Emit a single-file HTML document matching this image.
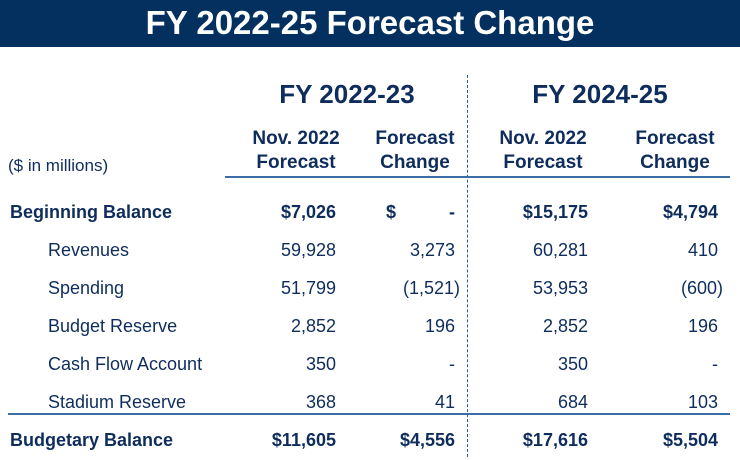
<!DOCTYPE html>
<html><head><meta charset="utf-8"><style>
body{margin:0;width:740px;height:460px;background:#fff;position:relative;overflow:hidden;font-family:"Liberation Sans",sans-serif;color:#0f2d5c}
.bar{position:absolute;left:0;top:0;width:740px;height:47px;background:#03305f}
.title{position:absolute;left:0;width:740px;top:3px;text-align:center;color:#fff;font-weight:bold;font-size:33px;line-height:40px}
.t{position:absolute;font-size:18px;line-height:22px;white-space:nowrap}
.b{font-weight:bold}
.r{text-align:right;width:120px}
.c{text-align:center;width:140px}
.h{font-size:19px;line-height:24px}
.hl{position:absolute;height:2px;background:#3b6ea5}
.vd{position:absolute;left:467px;top:75px;height:382px;border-left:1.5px dashed #2a5a8f}
</style></head><body>
<div class="bar"></div><div class="title">FY 2022-25 Forecast Change</div>
<div class="vd"></div>
<div class="t b c" style="left:277px;top:79px;font-size:26px;line-height:30px;width:140px">FY 2022-23</div>
<div class="t b c" style="left:530px;top:79px;font-size:26px;line-height:30px;width:140px">FY 2024-25</div>
<div class="t b c h" style="left:226px;top:127px">Nov. 2022<br>Forecast</div>
<div class="t b c h" style="left:345px;top:127px">Forecast<br>Change</div>
<div class="t b c h" style="left:473px;top:127px">Nov. 2022<br>Forecast</div>
<div class="t b c h" style="left:605px;top:127px">Forecast<br>Change</div>
<div class="t" style="left:8px;top:155px;font-size:17px">($ in millions)</div>
<div class="hl" style="left:225px;top:176px;width:505px"></div>
<div class="hl" style="left:8px;top:413px;width:722px"></div>

<div class="t b" style="left:10px;top:201px">Beginning Balance</div>
<div class="t b r" style="left:216px;top:201px">$7,026</div>
<div class="t b" style="left:386px;top:201px">$</div>
<div class="t b r" style="left:335px;top:201px">-</div>
<div class="t b r" style="left:468px;top:201px">$15,175</div>
<div class="t b r" style="left:598px;top:201px">$4,794</div>

<div class="t" style="left:48px;top:239px">Revenues</div>
<div class="t r" style="left:216px;top:239px">59,928</div>
<div class="t r" style="left:335px;top:239px">3,273</div>
<div class="t r" style="left:468px;top:239px">60,281</div>
<div class="t r" style="left:598px;top:239px">410</div>

<div class="t" style="left:48px;top:277px">Spending</div>
<div class="t r" style="left:216px;top:277px">51,799</div>
<div class="t r" style="left:340px;top:277px">(1,521)</div>
<div class="t r" style="left:468px;top:277px">53,953</div>
<div class="t r" style="left:603px;top:277px">(600)</div>

<div class="t" style="left:48px;top:315px">Budget Reserve</div>
<div class="t r" style="left:216px;top:315px">2,852</div>
<div class="t r" style="left:335px;top:315px">196</div>
<div class="t r" style="left:468px;top:315px">2,852</div>
<div class="t r" style="left:598px;top:315px">196</div>

<div class="t" style="left:48px;top:353px">Cash Flow Account</div>
<div class="t r" style="left:216px;top:353px">350</div>
<div class="t r" style="left:335px;top:353px">-</div>
<div class="t r" style="left:468px;top:353px">350</div>
<div class="t r" style="left:598px;top:353px">-</div>

<div class="t" style="left:48px;top:391px">Stadium Reserve</div>
<div class="t r" style="left:216px;top:391px">368</div>
<div class="t r" style="left:335px;top:391px">41</div>
<div class="t r" style="left:468px;top:391px">684</div>
<div class="t r" style="left:598px;top:391px">103</div>

<div class="t b" style="left:10px;top:429px">Budgetary Balance</div>
<div class="t b r" style="left:216px;top:429px">$11,605</div>
<div class="t b r" style="left:335px;top:429px">$4,556</div>
<div class="t b r" style="left:468px;top:429px">$17,616</div>
<div class="t b r" style="left:598px;top:429px">$5,504</div>
</body></html>
